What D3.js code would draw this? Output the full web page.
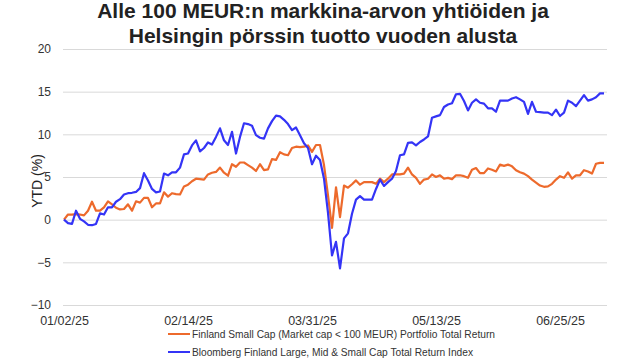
<!DOCTYPE html>
<html><head><meta charset="utf-8">
<script src="https://cdn.jsdelivr.net/npm/d3@7"></script>
<style>body{margin:0;background:#fff;} svg{display:block;}</style>
</head><body><svg id="c" width="640" height="358"></svg>
<script>
const titleLines = ["Alle 100 MEUR:n markkina-arvon yhtiöiden ja", "Helsingin pörssin tuotto vuoden alusta"];
const yAxisTitle = "YTD (%)";
const seriesNames = ["Finland Small Cap (Market cap < 100 MEUR) Portfolio Total Return", "Bloomberg Finland Large, Mid & Small Cap Total Return Index"];
const yTicks = [-10, -5, 0, 5, 10, 15, 20];
const xTickLabels = ["01/02/25", "02/14/25", "03/31/25", "05/13/25", "06/25/25"];
const dates = [
"01/02/25","01/03/25","01/06/25","01/07/25","01/08/25","01/09/25","01/10/25","01/13/25","01/14/25","01/15/25","01/16/25","01/17/25","01/20/25","01/21/25","01/22/25","01/23/25","01/24/25","01/27/25","01/28/25","01/29/25","01/30/25","01/31/25",
"02/03/25","02/04/25","02/05/25","02/06/25","02/07/25","02/10/25","02/11/25","02/12/25","02/13/25","02/14/25","02/17/25","02/18/25","02/19/25","02/20/25","02/21/25","02/24/25","02/25/25","02/26/25","02/27/25","02/28/25",
"03/03/25","03/04/25","03/05/25","03/06/25","03/07/25","03/10/25","03/11/25","03/12/25","03/13/25","03/14/25","03/17/25","03/18/25","03/19/25","03/20/25","03/21/25","03/24/25","03/25/25","03/26/25","03/27/25","03/28/25","03/31/25",
"04/01/25","04/02/25","04/03/25","04/04/25","04/07/25","04/08/25","04/09/25","04/10/25","04/11/25","04/14/25","04/15/25","04/16/25","04/17/25","04/18/25","04/21/25","04/22/25","04/23/25","04/24/25","04/25/25","04/28/25","04/29/25","04/30/25",
"05/01/25","05/02/25","05/05/25","05/06/25","05/07/25","05/08/25","05/09/25","05/12/25","05/13/25","05/14/25","05/15/25","05/16/25","05/19/25","05/20/25","05/21/25","05/22/25","05/23/25","05/26/25","05/27/25","05/28/25","05/29/25","05/30/25",
"06/02/25","06/03/25","06/04/25","06/05/25","06/06/25","06/09/25","06/10/25","06/11/25","06/12/25","06/13/25","06/16/25","06/17/25","06/18/25","06/19/25","06/20/25","06/23/25","06/24/25","06/25/25","06/26/25","06/27/25","06/30/25",
"07/01/25","07/02/25","07/03/25","07/04/25","07/07/25","07/08/25","07/09/25","07/10/25"];
const smallCap = [
0,0.6,0.6,0.65,0.6,0.5,1.05,2.1,1.05,1.05,1.45,2.15,1.8,1.4,1.2,1.25,1.8,1.05,2.15,2.0,2.55,2.55,
1.45,1.9,1.9,3.2,2.7,3.1,3.0,2.95,3.9,4.1,4.5,4.8,4.75,4.7,5.3,5.5,5.6,6.1,5.5,5.15,
6.5,6.2,6.7,6.7,6.4,6.1,5.7,6.5,5.8,5.9,7.1,7.0,7.9,7.65,7.55,8.4,8.55,8.5,8.55,8.7,7.95,
8.75,8.75,6.4,2.85,-0.95,3.8,0.3,4.0,3.75,4.15,4.6,4.1,4.4,4.4,4.4,4.2,4.8,4.4,4.8,5.3,5.3,5.3,
5.4,6.1,5.3,4.9,4.2,4.7,4.8,5.3,5.0,5.2,4.8,4.9,4.75,5.2,5.2,5.1,4.9,5.85,6.05,5.45,5.45,6.0,
5.85,5.65,6.45,6.3,6.45,6.25,5.8,5.55,5.4,5.1,4.7,4.35,4.0,3.85,3.9,4.2,4.7,5.1,4.9,5.55,4.8,
5.2,5.2,5.8,5.65,5.4,6.55,6.65,6.65];
const bloomberg = [
0,-0.4,-0.5,1.05,0.1,-0.2,-0.6,-0.65,-0.5,0.75,0.6,1.45,1.45,2.1,2.4,2.95,3.1,3.15,3.25,3.7,5.45,4.6,
3.6,3.2,3.3,5.4,5.2,5.55,5.55,6.1,7.65,7.75,8.7,9.3,8.0,8.4,9.05,8.8,9.7,10.7,9.3,8.75,
10.3,7.75,9.7,11.3,11.2,11.0,9.9,9.6,9.5,10.7,11.55,12.2,12.1,11.7,11.2,10.5,10.8,9.9,8.95,8.4,6.5,
7.5,7.0,4.8,0.8,-4.2,-2.6,-5.7,-2.2,-1.6,0.7,2.35,2.75,2.35,2.35,2.35,3.6,4.7,3.95,4.4,4.8,5.7,7.55,
7.65,9.0,9.05,8.7,9.1,9.4,9.75,11.95,12.1,12.25,13.2,13.5,13.65,14.7,14.75,13.9,12.8,13.7,14.1,13.7,13.6,13.05,
13.05,12.65,13.95,13.95,13.95,14.2,14.35,14.1,13.8,12.4,13.8,12.65,12.6,12.55,12.55,12.25,12.9,12.15,12.55,13.95,13.7,
13.3,13.95,14.6,13.95,14.1,14.35,14.8,14.8];
const colors = ["#ED6A2C", "#3434F6"];

const svg = d3.select("#c");
const font = "'Liberation Sans', Arial, sans-serif";
const x = d3.scalePoint().domain(dates).range([64, 604]);
const y = d3.scaleLinear().domain([-10, 20]).range([305, 49]);

// title
svg.selectAll("text.title").data(titleLines).join("text")
  .attr("class", "title")
  .attr("x", 323).attr("y", (d, i) => 18 + i * 24.5)
  .attr("text-anchor", "middle")
  .attr("font-family", font).attr("font-weight", "bold").attr("font-size", 21)
  .attr("fill", "#222").text(d => d);

// y grid + labels
const gy = svg.append("g").attr("transform", "translate(63,0)")
  .call(d3.axisLeft(y).tickValues(yTicks).tickSize(-544).tickPadding(12).tickFormat(d3.format("d")));
gy.select(".domain").remove();
gy.selectAll(".tick line").attr("stroke", "#d9d9d9").attr("stroke-width", 1);
gy.selectAll(".tick text").attr("font-family", font).attr("font-size", 12).attr("fill", "#333");

// x labels
const gx = svg.append("g").attr("transform", "translate(0,305)")
  .call(d3.axisBottom(x).tickValues(xTickLabels).tickSize(0).tickPadding(11));
gx.select(".domain").remove();
gx.selectAll(".tick text").attr("font-family", font).attr("font-size", 12.5).attr("fill", "#333");

// y title
svg.append("text").attr("transform", "translate(42,181) rotate(-90)")
  .attr("text-anchor", "middle").attr("font-family", font).attr("font-size", 14)
  .attr("fill", "#222").text(yAxisTitle);

// lines
const line = d3.line().x((d, i) => x(dates[i])).y(d => y(d));
[smallCap, bloomberg].forEach((s, k) => {
  svg.append("path").datum(s).attr("d", line)
    .attr("fill", "none").attr("stroke", colors[k]).attr("stroke-width", 2.2)
    .attr("stroke-linejoin", "round");
});

// legend
const legW = [303, 281];
seriesNames.forEach((name, k) => {
  const ly = 334 + k * 18;
  svg.append("line").attr("x1", 168).attr("x2", 190).attr("y1", ly).attr("y2", ly)
    .attr("stroke", colors[k]).attr("stroke-width", 2);
  svg.append("text").attr("x", 192).attr("y", ly + 4)
    .attr("font-family", "'Liberation Sans Narrow', 'Liberation Sans', Arial, sans-serif")
    .attr("font-size", 11).attr("fill", "#333")
    .attr("textLength", legW[k]).attr("lengthAdjust", "spacingAndGlyphs")
    .text(name);
});
</script></body></html>
